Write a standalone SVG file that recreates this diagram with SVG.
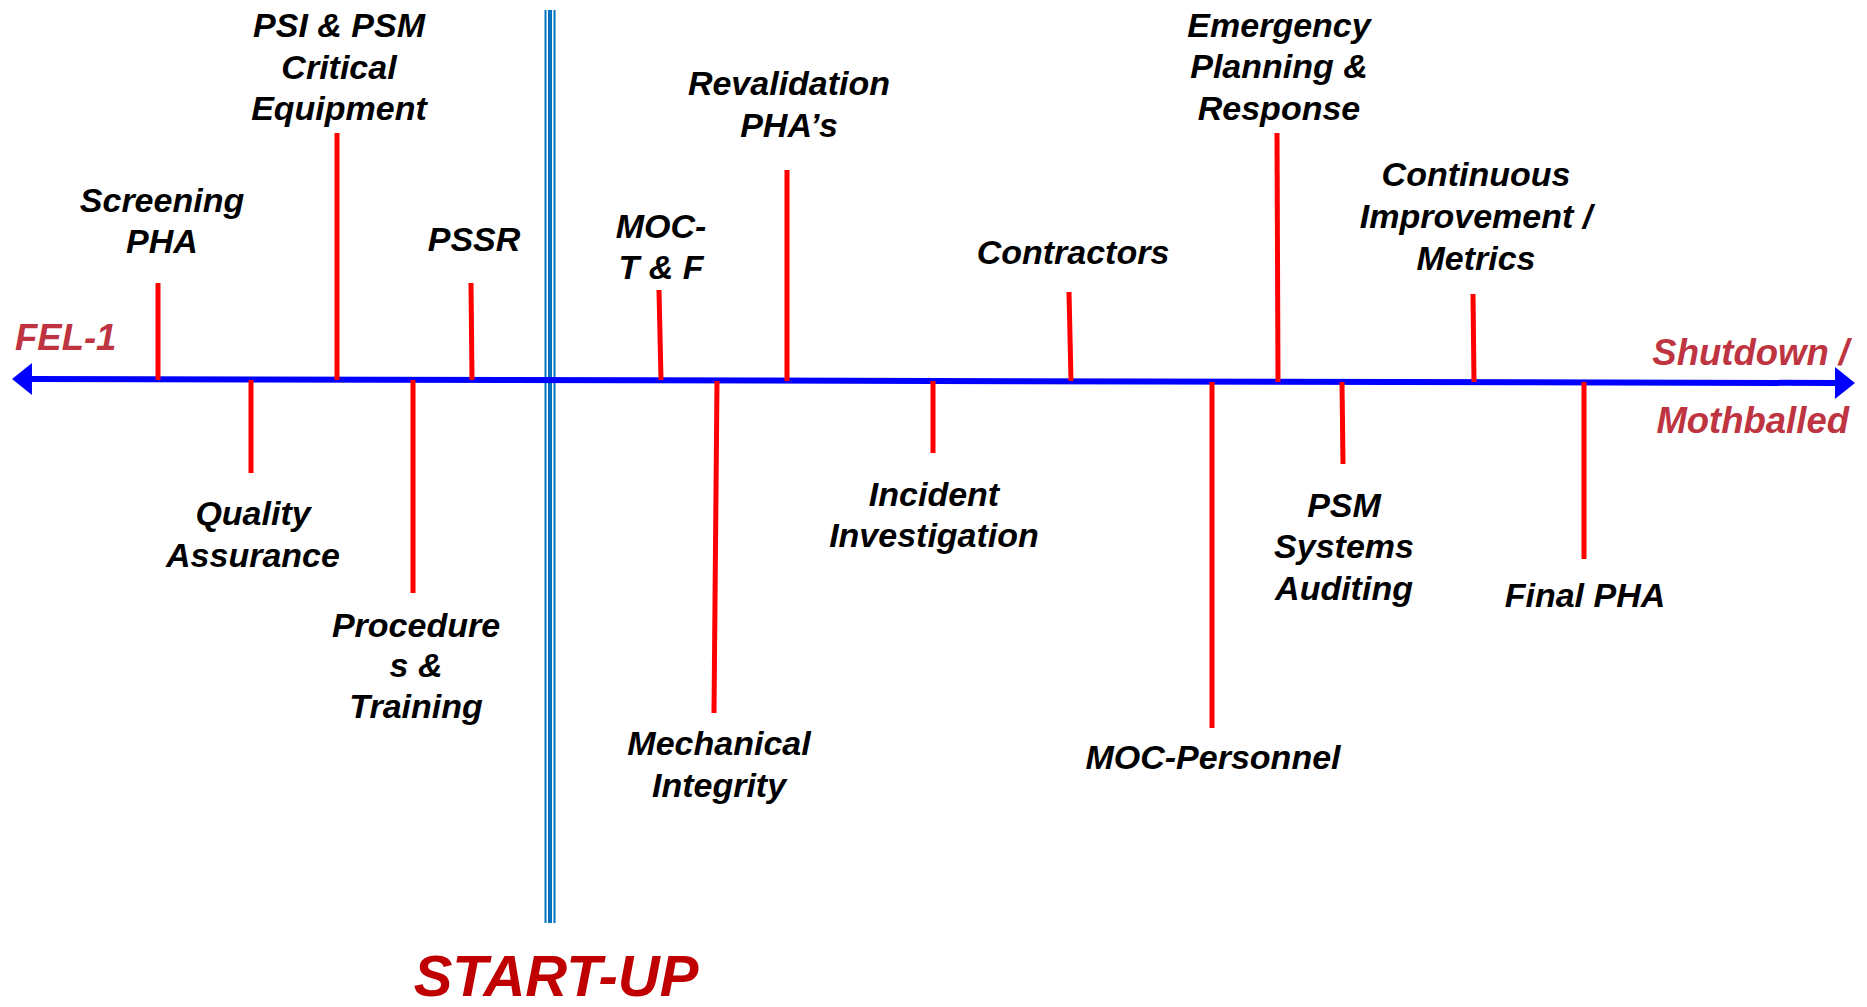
<svg xmlns="http://www.w3.org/2000/svg" width="1867" height="1007" viewBox="0 0 1867 1007">
  <style>
    text { font-family: "Liberation Sans", Arial, Helvetica, sans-serif; font-weight: bold; font-style: italic; }
    .lbl { font-size: 34px; fill: #000000; text-anchor: middle; }
    .end { font-size: 36.5px; fill: #BE3441; }
    .phase { font-size: 58px; fill: #C00000; text-anchor: middle; }
    .tick { stroke: #FF0000; stroke-width: 5; fill: none; }
    .axis { stroke: #0000FF; stroke-width: 6; fill: none; }
    .divider { stroke: #0070C0; fill: none; }
  </style>
  <defs>
    <marker id="arrowhead" markerUnits="userSpaceOnUse" markerWidth="22" markerHeight="34" refX="0" refY="16" orient="auto-start-reverse" overflow="visible">
      <path d="M0,0 L20,16 L0,32 Z" fill="#0000FF"/>
    </marker>
  </defs>

  <rect width="1867" height="1007" fill="#FFFFFF"/>

  <!-- start-up divider: thin / thick / thin -->
  <g id="startup-divider">
    <line class="divider" x1="545.5" y1="10" x2="545.5" y2="923" stroke-width="2"/>
    <line class="divider" x1="550" y1="10" x2="550" y2="923" stroke-width="4"/>
    <line class="divider" x1="554.5" y1="10" x2="554.5" y2="923" stroke-width="2"/>
  </g>

  <!-- timeline axis and milestone ticks -->
  <g id="connectors">
    <line class="axis" x1="32" y1="379" x2="1835" y2="383" marker-start="url(#arrowhead)" marker-end="url(#arrowhead)"/>
    <line class="tick" x1="158" y1="283" x2="158" y2="380"/>
    <line class="tick" x1="251" y1="380" x2="251" y2="473"/>
    <line class="tick" x1="337" y1="133" x2="337" y2="380"/>
    <line class="tick" x1="413" y1="380" x2="413" y2="593"/>
    <line class="tick" x1="471" y1="283" x2="472" y2="380"/>
    <line class="tick" x1="659" y1="290" x2="661" y2="380"/>
    <line class="tick" x1="717" y1="381" x2="714" y2="713"/>
    <line class="tick" x1="787" y1="170" x2="787" y2="381"/>
    <line class="tick" x1="933" y1="381" x2="933" y2="453"/>
    <line class="tick" x1="1069" y1="292" x2="1071" y2="381"/>
    <line class="tick" x1="1212" y1="382" x2="1212" y2="728"/>
    <line class="tick" x1="1277" y1="133" x2="1278" y2="382"/>
    <line class="tick" x1="1342" y1="382" x2="1343" y2="464"/>
    <line class="tick" x1="1473" y1="294" x2="1474" y2="382"/>
    <line class="tick" x1="1584" y1="382" x2="1584" y2="559"/>
  </g>

  <!-- end labels -->
  <g id="fel-1"><text class="end" x="15" y="350">FEL-1</text></g>
  <g id="shutdown"><text class="end" text-anchor="end" x="1849" y="365">Shutdown /</text><text class="end" text-anchor="end" x="1849" y="433">Mothballed</text></g>

  <!-- milestones above the axis -->
  <g id="screening-pha"><text class="lbl" x="162" y="212">Screening</text><text class="lbl" x="162" y="253">PHA</text></g>
  <g id="psi-psm"><text class="lbl" x="339" y="37">PSI &amp; PSM</text><text class="lbl" x="339" y="79">Critical</text><text class="lbl" x="339" y="120">Equipment</text></g>
  <g id="pssr"><text class="lbl" x="474" y="251">PSSR</text></g>
  <g id="moc-tf"><text class="lbl" x="661" y="238">MOC-</text><text class="lbl" x="661" y="279">T &amp; F</text></g>
  <g id="revalidation-pha"><text class="lbl" x="789" y="95">Revalidation</text><text class="lbl" x="789" y="137">PHA’s</text></g>
  <g id="contractors"><text class="lbl" x="1073" y="264">Contractors</text></g>
  <g id="emergency"><text class="lbl" x="1279" y="37">Emergency</text><text class="lbl" x="1279" y="78">Planning &amp;</text><text class="lbl" x="1279" y="120">Response</text></g>
  <g id="continuous-improvement"><text class="lbl" x="1476" y="186">Continuous</text><text class="lbl" x="1476" y="228">Improvement /</text><text class="lbl" x="1476" y="270">Metrics</text></g>

  <!-- milestones below the axis -->
  <g id="quality-assurance"><text class="lbl" x="253" y="525">Quality</text><text class="lbl" x="253" y="567">Assurance</text></g>
  <g id="procedures-training"><text class="lbl" x="416" y="637">Procedure</text><text class="lbl" x="416" y="677">s &amp;</text><text class="lbl" x="416" y="718">Training</text></g>
  <g id="mechanical-integrity"><text class="lbl" x="719" y="755">Mechanical</text><text class="lbl" x="719" y="797">Integrity</text></g>
  <g id="incident-investigation"><text class="lbl" x="934" y="506">Incident</text><text class="lbl" x="934" y="547">Investigation</text></g>
  <g id="moc-personnel"><text class="lbl" x="1213" y="769">MOC-Personnel</text></g>
  <g id="psm-auditing"><text class="lbl" x="1344" y="517">PSM</text><text class="lbl" x="1344" y="558">Systems</text><text class="lbl" x="1344" y="600">Auditing</text></g>
  <g id="final-pha"><text class="lbl" x="1585" y="607">Final PHA</text></g>

  <!-- phase label -->
  <g id="start-up"><text class="phase" x="556" y="996">START-UP</text></g>
</svg>
